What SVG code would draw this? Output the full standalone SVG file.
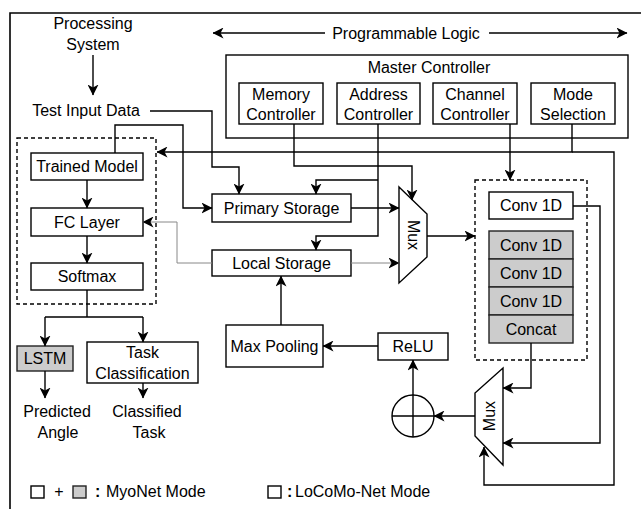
<svg xmlns="http://www.w3.org/2000/svg" width="641" height="509" viewBox="0 0 641 509">
<defs>
<style>
text{font-family:"Liberation Sans",Arial,sans-serif;font-size:16px;fill:#000;text-anchor:middle;dominant-baseline:central}
.b{fill:#fff;stroke:#000;stroke-width:1.4}
.g{fill:#ccc;stroke:#222;stroke-width:1.4}
.d{fill:none;stroke:#000;stroke-width:1.4;stroke-dasharray:4 3}
.w{fill:none;stroke:#000;stroke-width:1.4}
.t{fill:none;stroke:#888;stroke-width:1}
.l{text-anchor:start}
</style>
<marker id="a" viewBox="0 0 11 11" refX="10.5" refY="5.5" markerWidth="11" markerHeight="11" markerUnits="userSpaceOnUse" orient="auto">
<path d="M0,0 L11,5.5 L0,11 L3,5.5 Z" fill="#000"/>
</marker>
</defs>
<rect width="641" height="509" fill="#fff"/>
<path d="M10,520 V13 H660" fill="none" stroke="#000" stroke-width="1.6"/>

<g id="processing-system"><text x="93" y="23">Processing</text><text x="93" y="44">System</text></g>
<g id="test-input"><text x="86" y="110">Test Input Data</text></g>
<g id="programmable-logic"><text x="406" y="33">Programmable Logic</text></g>

<g id="master-controller"><rect class="b" x="226" y="55" width="402" height="83"/><text x="429" y="67">Master Controller</text></g>
<g id="memory-controller"><rect class="b" x="239" y="83" width="84" height="41"/><text x="281" y="94">Memory</text><text x="281" y="114">Controller</text></g>
<g id="address-controller"><rect class="b" x="337" y="83" width="83" height="41"/><text x="378.5" y="94">Address</text><text x="378.5" y="114">Controller</text></g>
<g id="channel-controller"><rect class="b" x="433" y="83" width="84" height="41"/><text x="475" y="94">Channel</text><text x="475" y="114">Controller</text></g>
<g id="mode-selection"><rect class="b" x="531" y="83" width="84" height="41"/><text x="573" y="94">Mode</text><text x="573" y="114">Selection</text></g>

<g id="classifier-block"><rect class="d" x="17" y="138" width="139" height="166"/></g>
<g id="trained-model"><rect class="b" x="31" y="153" width="112" height="27"/><text x="87" y="166.5">Trained Model</text></g>
<g id="fc-layer"><rect class="b" x="31" y="208" width="112" height="28"/><text x="87" y="222">FC Layer</text></g>
<g id="softmax"><rect class="b" x="31" y="263" width="112" height="27"/><text x="87" y="276.5">Softmax</text></g>
<g id="lstm"><rect class="g" x="17" y="346" width="56" height="25"/><text x="45" y="358.5">LSTM</text></g>
<g id="task-classification"><rect class="b" x="87" y="342" width="111" height="41"/><text x="142.5" y="352">Task</text><text x="142.5" y="373">Classification</text></g>
<g id="predicted-angle"><text x="57" y="411">Predicted</text><text x="58" y="432">Angle</text></g>
<g id="classified-task"><text x="147" y="411">Classified</text><text x="149" y="432">Task</text></g>

<g id="primary-storage"><rect class="b" x="212" y="194" width="139" height="28"/><text x="281.5" y="208">Primary Storage</text></g>
<g id="local-storage"><rect class="b" x="212" y="250" width="139" height="26"/><text x="281.5" y="263">Local Storage</text></g>

<g id="mux1"><path class="b" d="M399,187 L427,214 L427,257 L399,283 Z"/><text x="413" y="235" transform="rotate(90 413 235)">Mux</text></g>

<g id="conv-block"><rect class="d" x="475" y="180" width="112" height="180"/></g>
<g id="conv1d-a"><rect class="b" x="489" y="192" width="84" height="27"/><text x="531" y="205.5">Conv 1D</text></g>
<g id="conv1d-b"><rect class="g" x="489" y="231" width="84" height="28"/><text x="531" y="245">Conv 1D</text></g>
<g id="conv1d-c"><rect class="g" x="489" y="259" width="84" height="28"/><text x="531" y="273">Conv 1D</text></g>
<g id="conv1d-d"><rect class="g" x="489" y="287" width="84" height="28"/><text x="531" y="301">Conv 1D</text></g>
<g id="concat"><rect class="g" x="489" y="315" width="84" height="28"/><text x="531" y="329">Concat</text></g>

<g id="mux2"><path class="b" d="M503,368 L503,465 L475,436 L475,393 Z"/><text x="489" y="416" transform="rotate(-90 489 416)">Mux</text></g>
<g id="adder"><circle class="b" cx="413" cy="416" r="21"/><path class="w" d="M392,416 H434 M413,395 V437"/></g>
<g id="relu"><rect class="b" x="378" y="333" width="70" height="27"/><text x="413" y="346.5">ReLU</text></g>
<g id="max-pooling"><rect class="b" x="226" y="325" width="97" height="42"/><text x="274.5" y="346">Max Pooling</text></g>

<g id="connectors">
<path class="w" d="M93,55 V95" marker-end="url(#a)"/>
<path class="w" d="M325,33 H213" marker-end="url(#a)"/>
<path class="w" d="M489,33 H627" marker-end="url(#a)"/>
<path class="w" d="M150,111 H212 V167 H239 V194" marker-end="url(#a)"/>
<path class="w" d="M115,153 V125 H183 V208 H212" marker-end="url(#a)"/>
<path class="w" d="M572,124 V152 H157" marker-end="url(#a)"/>
<path class="w" d="M572,152 H614 V485 H484 V447" marker-end="url(#a)"/>
<path class="w" d="M294,124 V166 H412 V200" marker-end="url(#a)"/>
<path class="w" d="M378,124 V236 H316 V250" marker-end="url(#a)"/>
<path class="w" d="M378,180 H316 V194" marker-end="url(#a)"/>
<path class="w" d="M510,124 V180" marker-end="url(#a)"/>
<path class="w" d="M351,208 H399" marker-end="url(#a)"/>
<path class="t" d="M351,263 H399" marker-end="url(#a)"/>
<path class="t" d="M212,263 H177 V222 H143" marker-end="url(#a)"/>
<path class="w" d="M427,236 H475" marker-end="url(#a)"/>
<path class="w" d="M573,206 H600 V443 H503" marker-end="url(#a)"/>
<path class="w" d="M531,343 V388 H503" marker-end="url(#a)"/>
<path class="w" d="M475,416 H434" marker-end="url(#a)"/>
<path class="w" d="M413,395 V360" marker-end="url(#a)"/>
<path class="w" d="M378,346 H323" marker-end="url(#a)"/>
<path class="w" d="M281,325 V276" marker-end="url(#a)"/>
<path class="w" d="M87,180 V208" marker-end="url(#a)"/>
<path class="w" d="M87,236 V263" marker-end="url(#a)"/>
<path class="w" d="M87,290 V317 M45,317 H143"/>
<path class="w" d="M45,317 V346" marker-end="url(#a)"/>
<path class="w" d="M143,317 V342" marker-end="url(#a)"/>
<path class="w" d="M45,371 V398" marker-end="url(#a)"/>
<path class="w" d="M143,383 V398" marker-end="url(#a)"/>
</g>

<g id="legend">
<rect class="b" x="31" y="486" width="13" height="12"/>
<text x="59" y="491">+</text>
<rect class="g" x="73" y="486" width="13" height="12"/>
<text class="l" x="95" y="491" style="font-weight:bold">:</text>
<text class="l" x="106" y="491">MyoNet Mode</text>
<rect class="b" x="268" y="486" width="13" height="12"/>
<text class="l" x="287" y="491" style="font-weight:bold">:</text>
<text class="l" x="295" y="491">LoCoMo-Net Mode</text>
</g>
</svg>
